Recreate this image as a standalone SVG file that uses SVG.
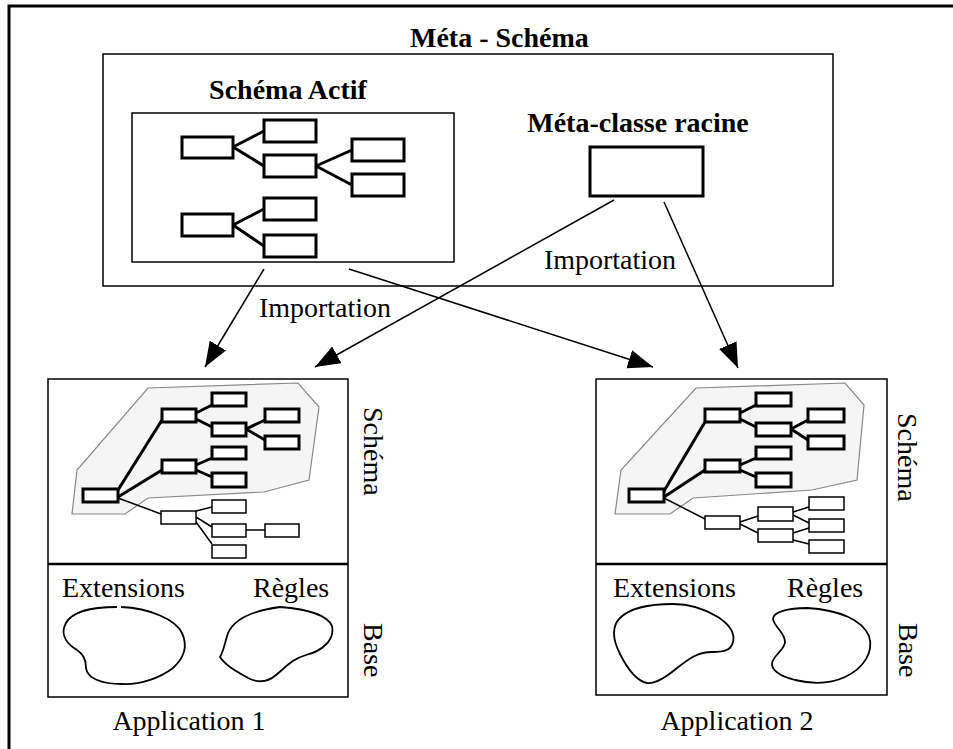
<svg xmlns="http://www.w3.org/2000/svg" width="953" height="749" viewBox="0 0 953 749">
<style>
text{font-family:"Liberation Serif","Times New Roman",serif;font-size:28px;fill:#000}
.b{font-weight:bold}
.box{fill:none;stroke:#000;stroke-width:1.5}
.tk{fill:#fff;stroke:#000;stroke-width:3}
.tn{fill:#fff;stroke:#000;stroke-width:1.5}
.lk{stroke:#000;stroke-width:3;fill:none}
.ln{stroke:#000;stroke-width:1.5;fill:none}
.poly{fill:#f5f5f5;stroke:#888;stroke-width:1.2}
.blob{fill:none;stroke:#000;stroke-width:1.8}
.arr{stroke:#000;stroke-width:1.5;fill:none;marker-end:url(#ah)}
</style>
<defs>
<marker id="ah" markerUnits="userSpaceOnUse" markerWidth="26" markerHeight="20" refX="25" refY="9.5" orient="auto">
<path d="M0,0 L25,9.5 L0,19 z" fill="#000"/>
</marker>
</defs>
<rect width="953" height="749" fill="#fff"/>
<path d="M9,749 V6 H953" fill="none" stroke="#000" stroke-width="3"/>
<text class="b" x="410" y="47">Méta - Schéma</text>

<g id="meta-schema">
<rect class="box" x="103" y="54" width="730" height="232"/>
</g>

<g id="schema-actif">
<text class="b" x="288" y="99" text-anchor="middle">Schéma Actif</text>
<rect class="box" x="132" y="113" width="322" height="149"/>
<path class="lk" d="M233,147 L264,131 M233,147 L264,166 M316,166 L352,150 M316,166 L352,185 M233,225 L264,209 M233,225 L264,246"/>
<rect class="tk" x="182" y="137" width="51" height="21"/>
<rect class="tk" x="264" y="120" width="52" height="22"/>
<rect class="tk" x="264" y="155" width="52" height="22"/>
<rect class="tk" x="352" y="139" width="52" height="22"/>
<rect class="tk" x="352" y="174" width="52" height="22"/>
<rect class="tk" x="182" y="214" width="51" height="22"/>
<rect class="tk" x="264" y="198" width="52" height="22"/>
<rect class="tk" x="264" y="235" width="52" height="22"/>
</g>

<g id="meta-classe-racine">
<text class="b" x="638" y="132" text-anchor="middle">Méta-classe racine</text>
<rect class="tk" x="590" y="147" width="113" height="49"/>
</g>

<g id="application-1">
<rect class="box" x="48" y="379" width="300" height="318"/>
<line x1="48" y1="564" x2="348" y2="564" stroke="#000" stroke-width="2.5"/>
<polygon class="poly" points="148,388 298,383 319,407 309,480 264,492 148,498 125,514 72,514 77,470"/>
<path class="lk" d="M118,490 L162,420 M118,497 L162,470 M196,413 L212,405 M196,419 L212,427 M246,429 L265,420 M246,429 L265,440 M196,465 L212,458 M196,470 L212,477"/>
<path class="ln" d="M118,498 L161,514 M196,511 L212,507 M196,517 L212,527 M196,522 L212,544 M246,530 L265,530"/>
<rect class="tk" x="83" y="489" width="35" height="13"/>
<rect class="tk" x="162" y="409" width="34" height="13"/>
<rect class="tk" x="212" y="393" width="34" height="13"/>
<rect class="tk" x="212" y="423" width="34" height="13"/>
<rect class="tk" x="265" y="409" width="34" height="13"/>
<rect class="tk" x="265" y="436" width="34" height="13"/>
<rect class="tk" x="162" y="460" width="34" height="13"/>
<rect class="tk" x="212" y="447" width="34" height="12"/>
<rect class="tk" x="212" y="473" width="34" height="14"/>
<rect class="tn" x="161" y="511" width="35" height="13"/>
<rect class="tn" x="212" y="500" width="34" height="13"/>
<rect class="tn" x="212" y="524" width="34" height="13"/>
<rect class="tn" x="265" y="524" width="34" height="13"/>
<rect class="tn" x="212" y="545" width="34" height="13"/>
<text transform="translate(364,407) rotate(90)">Schéma</text>
<text transform="translate(364,623) rotate(90)">Base</text>
<text x="62" y="597">Extensions</text>
<text x="253" y="597">Règles</text>
<path class="blob" d="M121,607 C150,608 176,620 182,633 C188,646 184,658 173,668 C160,678 140,685 122,684 C101,684 87,678 86,668 C86,660 84,654 74,648 C64,641 61,632 66,623 C72,612 90,607 117,607"/>
<path class="blob" d="M280,607 C305,609 327,614 332,626 C335,640 322,651 306,655 C292,659 286,667 276,675 C268,682 258,683 248,678 C236,671 225,665 220,657 C224,650 225,642 228,633 C234,620 250,611 280,607 Z"/>
<text x="189" y="730" text-anchor="middle">Application 1</text>
</g>

<g id="application-2">
<rect class="box" x="596" y="379" width="291" height="316"/>
<line x1="596" y1="564" x2="887" y2="564" stroke="#000" stroke-width="2.5"/>
<polygon class="poly" points="696,388 845,383 864,405 857,480 812,490 693,498 670,514 615,514 621,470"/>
<path class="lk" d="M664,491 L705,422 M664,497 L705,470 M740,413 L756,405 M740,419 L756,427 M791,429 L808,420 M791,429 L808,440 M740,465 L756,458 M740,470 L756,477"/>
<path class="ln" d="M664,498 L705,519 M740,522 L758,516 M740,524 L758,533 M793,512 L809,507 M793,515 L809,523 M793,533 L809,528 M793,540 L809,544"/>
<rect class="tk" x="629" y="489" width="35" height="13"/>
<rect class="tk" x="705" y="409" width="35" height="13"/>
<rect class="tk" x="756" y="393" width="35" height="13"/>
<rect class="tk" x="756" y="423" width="35" height="13"/>
<rect class="tk" x="808" y="409" width="36" height="13"/>
<rect class="tk" x="808" y="436" width="36" height="13"/>
<rect class="tk" x="705" y="460" width="35" height="12"/>
<rect class="tk" x="756" y="447" width="35" height="12"/>
<rect class="tk" x="756" y="473" width="35" height="14"/>
<rect class="tn" x="705" y="516" width="35" height="13"/>
<rect class="tn" x="758" y="507" width="35" height="14"/>
<rect class="tn" x="758" y="529" width="35" height="13"/>
<rect class="tn" x="809" y="497" width="35" height="13"/>
<rect class="tn" x="809" y="519" width="35" height="13"/>
<rect class="tn" x="809" y="540" width="35" height="13"/>
<text transform="translate(898,413) rotate(90)">Schéma</text>
<text transform="translate(899,623) rotate(90)">Base</text>
<text x="613" y="597">Extensions</text>
<text x="787" y="597">Règles</text>
<path class="blob" d="M673,604 C690,604 705,609 718,617 C730,625 735,634 733,642 C731,650 725,652 712,652 C698,652 690,658 677,668 C664,679 655,684 647,683 C637,681 628,670 620,654 C612,638 612,626 620,618 C630,608 650,604 673,604 Z"/>
<path class="blob" d="M807,608 C840,610 862,620 869,636 C874,652 864,668 845,677 C830,684 812,684 795,680 C780,676 772,670 772,664 C772,656 785,650 785,642 C785,632 774,627 773,619 C773,612 788,608 807,608 Z"/>
<text x="737" y="730" text-anchor="middle">Application 2</text>
</g>

<g id="connectors">
<line class="arr" x1="264" y1="269" x2="205" y2="367"/>
<line class="arr" x1="349" y1="269" x2="653" y2="367"/>
<line class="arr" x1="614" y1="200" x2="315" y2="367"/>
<line class="arr" x1="664" y1="202" x2="738" y2="368"/>
<text x="610" y="269" text-anchor="middle">Importation</text>
<text x="325" y="317" text-anchor="middle">Importation</text>
</g>
</svg>
